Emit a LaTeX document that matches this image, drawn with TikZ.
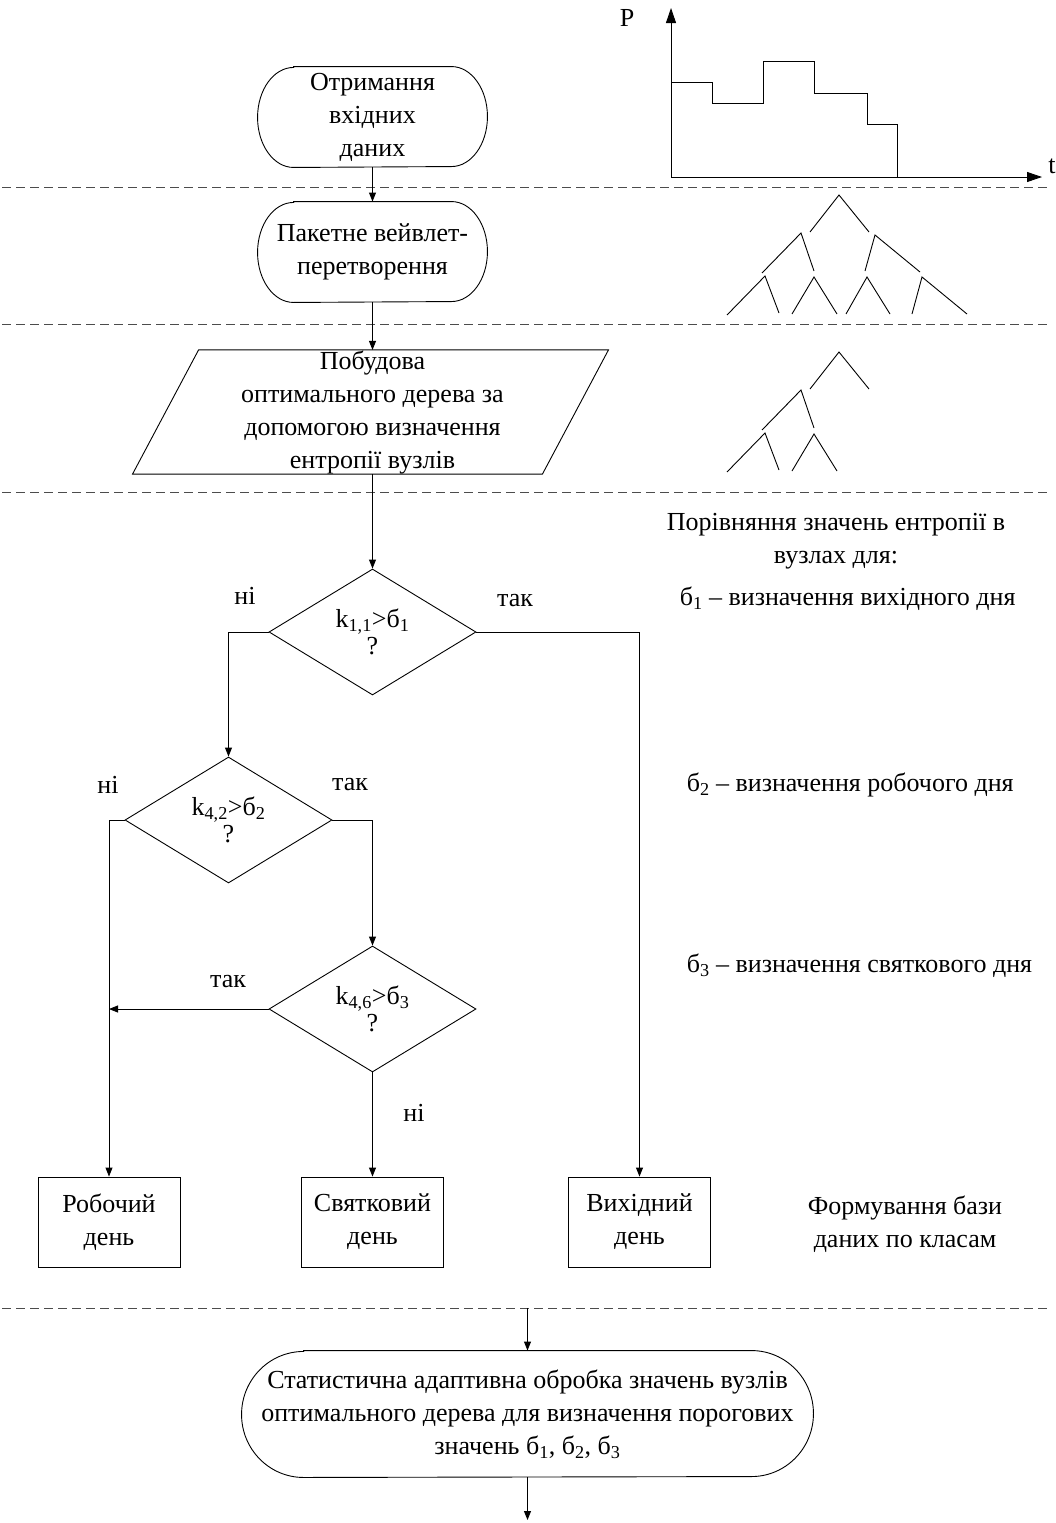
\documentclass[tikz,border=0pt]{standalone}
\usepackage{fontspec}
\setmainfont{Liberation Serif}
\usetikzlibrary{arrows.meta,shapes.geometric,calc}
\tikzset{>={Triangle[length=9pt,width=7pt]}}
\tikzset{
  every node/.style={font=\fontsize{26}{33}\selectfont},
  term/.style={minimum width=229pt,minimum height=100pt,inner sep=0pt,align=center},
  cond/.style={draw,diamond,aspect=1.65,minimum width=207pt,minimum height=126pt,
    inner sep=0pt,align=center,font=\fontsize{26}{27}\selectfont},
  dbox/.style={draw,minimum width=142pt,minimum height=90pt,align=center},
  sep/.style={black!70,dash pattern=on 9pt off 5pt},
  axis/.style={-{Triangle[length=15pt,width=10pt]}}
}
% outline of a terminator node: name, x radius, y radius
\newcommand{\termpath}[3]{%
  \draw ($(#1.north west)+(#2,0)$) -- ($(#1.north east)+(-#2,0)$)
    arc[start angle=90,end angle=-90,x radius=#2pt,y radius=#3pt]
    -- ($(#1.south west)+(#2,0)$)
    arc[start angle=270,end angle=90,x radius=#2pt,y radius=#3pt] -- cycle;}

\begin{document}
\begin{tikzpicture}[x=1pt,y=-1pt,line width=0.9pt]
  \useasboundingbox (0,0) rectangle (1055,1523);
  % separators
  \foreach \y in {187,324,492,1308}
    \draw[sep] (2,\y) -- (1048,\y);

  % load curve
  \coordinate (O) at (671,177);
  \draw[axis] (O) -- (671,8);
  \draw[axis] (O) -- (1042,177);
  \node (plab) at (627,18) {P};
  \node (tlab) at (1052,166) {t};
  \draw (671,82) -- (712,82) -- (712,103) -- (763,103) -- (763,61) -- (814,61)
    -- (814,93) -- (867,93) -- (867,124) -- (897,124) -- (897,177);

  % full packet tree
  \draw (810,232) -- (839,195) -- (869,232);
  \draw (762,273) -- (801,233) -- (814,271);
  \draw (865,271) -- (875,235) -- (920,272);
  \draw (727,315) -- (765,276) -- (779,313);
  \draw (792,314) -- (814,277) -- (837,314);
  \draw (846,314) -- (867,277) -- (890,314);
  \draw (912,314) -- (922,277) -- (967,314);
  % optimal tree
  \begin{scope}[yshift=-157pt]
    \draw (810,232) -- (839,195) -- (869,232);
    \draw (762,273) -- (801,233) -- (814,271);
    \draw (727,315) -- (765,276) -- (779,313);
    \draw (792,314) -- (814,277) -- (837,314);
  \end{scope}

  % flow
  \node[term] (input) at (372.5,117) {Отримання\\вхідних\\даних};
  \termpath{input}{36}{50}
  \node[term] (wave) at (372.5,252) {Пакетне вейвлет-\\перетворення};
  \termpath{wave}{36}{50}
  \node[minimum width=409pt,minimum height=122pt,inner sep=0pt,align=center] (tree) at (372.5,412)
    {Побудова\\оптимального дерева за\\допомогою визначення\\ентропії вузлів};
  \draw ($(tree.north west)+(31,0)$) -- ($(tree.north east)+(31,0)$)
    -- ($(tree.south east)+(-35,0)$) -- ($(tree.south west)+(-35,0)$) -- cycle;
  \node[cond] (c1) at (372.5,632) {k\textsubscript{1,1}>б\textsubscript{1}\\?};
  \node[cond] (c2) at (228.5,820) {k\textsubscript{4,2}>б\textsubscript{2}\\?};
  \node[cond] (c3) at (372.5,1009) {k\textsubscript{4,6}>б\textsubscript{3}\\?};
  \node[dbox] (work) at (109,1222) {Робочий\\день};
  \node[dbox] (holi) at (372.5,1222) {Святковий\\день};
  \node[dbox] (week) at (639.5,1222) {Вихідний\\день};
  \node[term,minimum width=571pt,minimum height=126pt] (stat) at (527.5,1414)
    {Статистична адаптивна обробка значень вузлів\\оптимального дерева для визначення порогових\\значень б\textsubscript{1}, б\textsubscript{2}, б\textsubscript{3}};
  \termpath{stat}{62}{63}

  \draw[->] (input) -- (wave);
  \draw[->] (wave) -- (tree.north);
  \draw[->] (tree.south) -- (c1.north);
  \draw[->] (c1.west) -| (c2.north);
  \draw[->] (c1.east) -| (week.north);
  \draw[->] (c2.west) -| (work.north);
  \draw[->] (c2.east) -| (c3.north);
  \draw[->] (c3.west) -- (c3.west -| work.north);
  \draw[->] (c3.south) -- (holi.north);
  \coordinate (cut) at (527.5,1308);
  \coordinate (out) at (527.5,1520);
  \draw[->] (cut) -- (stat.north);
  \draw[->] (stat.south) -- (out);

  \node (no1) at (245,596) {ні};
  \node (yes1) at (515,601) {так};
  \node (no2) at (108,785) {ні};
  \node (yes2) at (350,785) {так};
  \node (yes3) at (228,982) {так};
  \node (no3) at (414,1113) {ні};

  % notes on the right
  \node[align=center] (cmp) at (836,541) {Порівняння значень ентропії в\\вузлах для:};
  \node[anchor=west] (s1) at (676,599) {б\textsubscript{1} – визначення вихідного дня};
  \node[anchor=west] (s2) at (683,785) {б\textsubscript{2} – визначення робочого дня};
  \node[anchor=west] (s3) at (683,966) {б\textsubscript{3} – визначення святкового дня};
  \node[align=center] (db) at (905,1224) {Формування бази\\даних по класам};
\end{tikzpicture}
\end{document}
